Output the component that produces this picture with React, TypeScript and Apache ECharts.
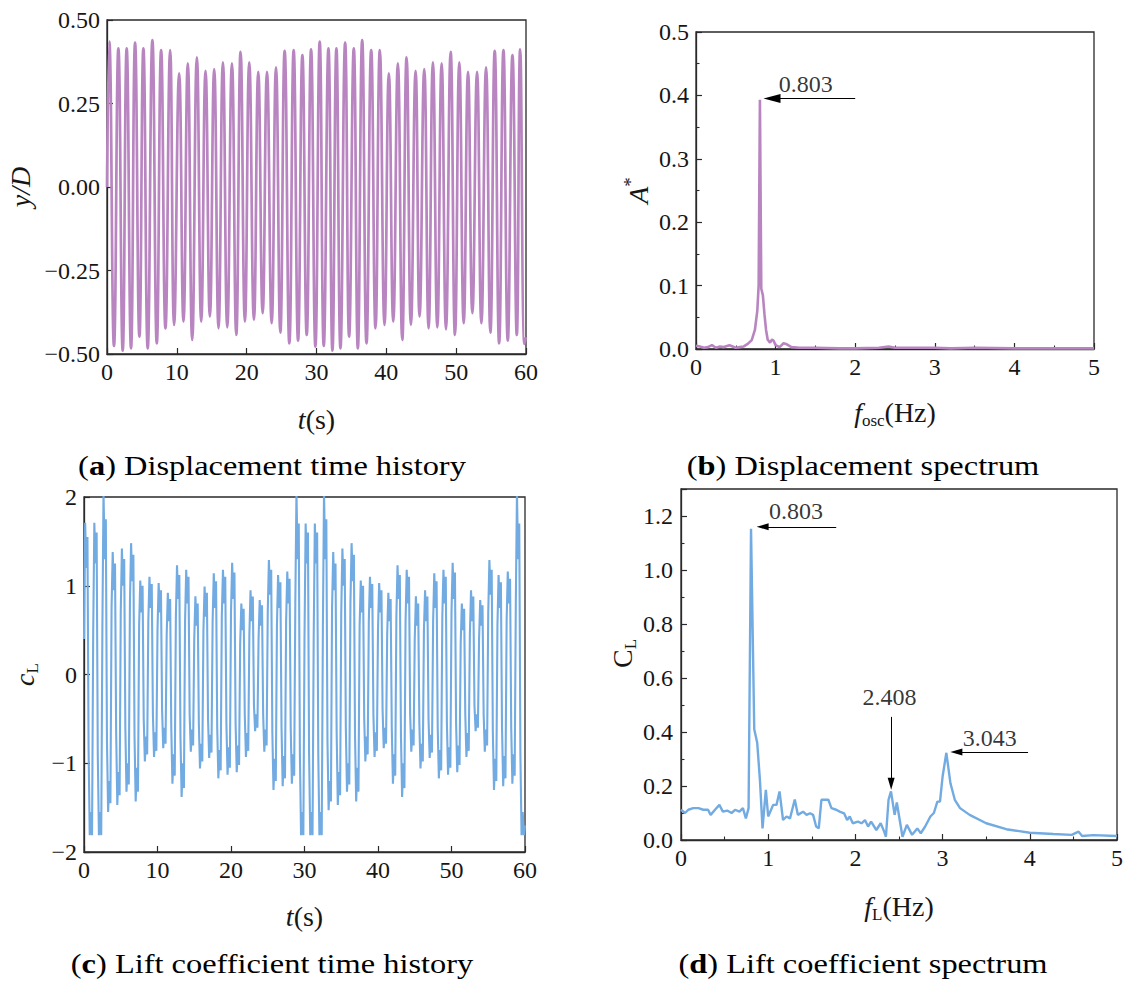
import React, { useEffect, useRef } from "react";
import * as echarts from "echarts";

const W = 1132;
const H = 986;
const SERIF = "Liberation Serif, Times New Roman, serif";
const INK = "#161616";
const AXIS = "#2a2a2a";
const PURPLE = "#b985c1";
const BLUE = "#72abe2";

// ---------- (a) displacement time history: read peaks / troughs ----------
const dispTime = [
  0,
  0.33, 1.0, 1.63, 2.25, 2.82, 3.44, 4.02, 4.64, 5.21, 5.83,
  6.5, 7.13, 7.75, 8.37, 9.04, 9.61, 10.33, 10.95, 11.57, 12.2,
  12.87, 13.49, 14.11, 14.73, 15.35, 15.97, 16.6, 17.22, 17.89, 18.51,
  19.13, 19.75, 20.37, 21.04, 21.66, 22.29, 22.91, 23.58, 24.2, 24.82,
  25.44, 26.11, 26.73, 27.36, 27.98, 28.6, 29.22, 29.84, 30.46, 31.04,
  31.71, 32.28, 32.85, 33.43, 34.1, 34.67, 35.34, 35.92, 36.54, 37.16,
  37.83, 38.45, 39.07, 39.74, 40.36, 40.99, 41.65, 42.28, 42.9, 43.52,
  44.19, 44.76, 45.43, 46.05, 46.67, 47.3, 47.92, 48.54, 49.21, 49.83,
  50.45, 51.08, 51.7, 52.32, 52.99, 53.61, 54.28, 54.9, 55.52, 56.15,
  56.77, 57.39, 58.06, 58.68, 59.16, 59.78,
  60,
];
const dispValue = [
  0.0,
  0.435, -0.476, 0.415, -0.49, 0.415, -0.483, 0.432, -0.448, 0.415, -0.483,
  0.44, -0.468, 0.41, -0.423, 0.41, -0.413, 0.34, -0.403, 0.37, -0.458,
  0.388, -0.403, 0.348, -0.388, 0.353, -0.423, 0.373, -0.42, 0.37, -0.443,
  0.405, -0.403, 0.373, -0.398, 0.345, -0.378, 0.345, -0.408, 0.358, -0.436,
  0.408, -0.468, 0.41, -0.46, 0.395, -0.443, 0.412, -0.478, 0.435, -0.476,
  0.415, -0.49, 0.415, -0.483, 0.432, -0.448, 0.415, -0.483, 0.44, -0.468,
  0.41, -0.423, 0.41, -0.413, 0.34, -0.403, 0.37, -0.458, 0.388, -0.413,
  0.348, -0.388, 0.353, -0.423, 0.373, -0.42, 0.37, -0.426, 0.405, -0.443,
  0.373, -0.408, 0.345, -0.378, 0.345, -0.408, 0.358, -0.436, 0.408, -0.468,
  0.41, -0.46, 0.395, -0.443, 0.412, -0.47,
  -0.45,
];

// ---------- (b) displacement spectrum ----------
const dispSpectrum = [
  [0, 0.005], [0.05, 0.004], [0.1, 0.002], [0.15, 0.003], [0.2, 0.006], [0.25, 0.002],
  [0.3, 0.004], [0.35, 0.003], [0.42, 0.006], [0.5, 0.002], [0.55, 0.003], [0.6, 0.004],
  [0.65, 0.008], [0.7, 0.014], [0.74, 0.03], [0.77, 0.06], [0.787, 0.1], [0.803, 0.393],
  [0.82, 0.095], [0.84, 0.085], [0.86, 0.055], [0.88, 0.03], [0.9, 0.015], [0.93, 0.01],
  [0.955, 0.015], [0.975, 0.013], [1.0, 0.006], [1.05, 0.003], [1.1, 0.009], [1.13, 0.008],
  [1.2, 0.003], [1.3, 0.002], [1.5, 0.002], [1.8, 0.001], [2.0, 0.001], [2.3, 0.002],
  [2.42, 0.004], [2.5, 0.002], [2.8, 0.002], [3.0, 0.002], [3.2, 0.001], [3.5, 0.002],
  [4.0, 0.001], [4.5, 0.001], [5.0, 0.001],
];

// ---------- (c) lift coefficient time history ----------
// eight samples per cycle, one sample every LIFT_STEP s:
// rise knee, first crest, crest dip, second crest, fall knee, first trough, trough bump, second trough
const LIFT_STEP = 0.15625;
const liftRise = [
  0.4, 0.45, 0.5, 0.75, 0.7, 0.8, 0.55, 0.6, 0.5, 0.45,
  0.65, 0.6, 0.4, 0.5, 0.6, 0.65, 0.7, 0.35, 0.45, 0.4,
  0.7, 0.55, 0.6, 0.8, 0.4, 0.4, 0.5, 0.75, 0.7, 0.8,
  0.55, 0.6, 0.5, 0.45, 0.65, 0.6, 0.4, 0.5, 0.6, 0.65,
  0.7, 0.35, 0.45, 0.4, 0.7, 0.55, 0.6, 0.8,
];
const liftPeakA = [
  1.71, 1.71, 2.05, 1.38, 1.42, 1.48, 1.06, 1.1, 1.03, 0.92,
  1.23, 1.18, 0.88, 0.99, 1.14, 1.18, 1.26, 0.8, 0.95, 0.84,
  1.29, 1.12, 1.16, 2.05, 1.7, 1.7, 2.05, 1.38, 1.42, 1.48,
  1.06, 1.1, 1.03, 0.92, 1.23, 1.18, 0.88, 0.95, 1.14, 1.18,
  1.26, 0.8, 0.95, 0.84, 1.29, 1.12, 1.16, 2.05,
];
const liftPeakDip = [
  1.2, 1.25, 1.3, 0.95, 1.0, 1.05, 0.7, 0.75, 0.7, 0.6,
  0.85, 0.8, 0.55, 0.65, 0.75, 0.8, 0.85, 0.5, 0.6, 0.55,
  0.9, 0.75, 0.8, 1.3, 1.25, 1.25, 1.3, 0.95, 1.0, 1.05,
  0.7, 0.75, 0.7, 0.6, 0.85, 0.8, 0.55, 0.6, 0.75, 0.8,
  0.85, 0.5, 0.6, 0.55, 0.9, 0.75, 0.8, 1.3,
];
const liftPeakB = [
  1.55, 1.6, 1.75, 1.25, 1.3, 1.35, 1.0, 1.02, 0.95, 0.85,
  1.12, 1.1, 0.8, 0.92, 1.05, 1.1, 1.15, 0.74, 0.88, 0.78,
  1.18, 1.04, 1.08, 1.7, 1.6, 1.6, 1.75, 1.25, 1.3, 1.35,
  1.0, 1.02, 0.95, 0.85, 1.12, 1.1, 0.8, 0.88, 1.05, 1.1,
  1.15, 0.74, 0.88, 0.78, 1.18, 1.04, 1.08, 1.7,
];
const liftFall = [
  -0.85, -0.9, -0.75, -0.65, -0.6, -0.7, -0.5, -0.45, -0.4, -0.6,
  -0.7, -0.45, -0.55, -0.5, -0.6, -0.55, -0.55, -0.45, -0.35, -0.45,
  -0.65, -0.6, -0.6, -0.9, -0.9, -0.9, -0.75, -0.65, -0.6, -0.7,
  -0.5, -0.45, -0.4, -0.6, -0.7, -0.45, -0.55, -0.5, -0.6, -0.55,
  -0.55, -0.45, -0.35, -0.45, -0.65, -0.6, -0.6, -0.9,
];
const liftTroughA = [
  -1.81, -1.81, -1.55, -1.47, -1.32, -1.43, -0.98, -0.93, -0.83, -1.23,
  -1.38, -0.87, -1.06, -0.94, -1.17, -1.13, -1.1, -0.93, -0.64, -0.87,
  -1.3, -1.26, -1.23, -1.81, -1.81, -1.81, -1.53, -1.47, -1.32, -1.43,
  -0.98, -0.93, -0.83, -1.23, -1.38, -0.87, -1.06, -0.94, -1.17, -1.13,
  -1.1, -0.93, -0.64, -0.87, -1.3, -1.26, -1.23, -1.81,
];
const liftTroughBump = [
  -1.55, -1.55, -1.2, -1.1, -1.0, -1.05, -0.7, -0.65, -0.6, -0.9,
  -1.0, -0.62, -0.78, -0.68, -0.85, -0.82, -0.8, -0.66, -0.45, -0.62,
  -0.95, -0.92, -0.9, -1.55, -1.55, -1.55, -1.2, -1.1, -1.0, -1.05,
  -0.7, -0.65, -0.6, -0.9, -1.0, -0.62, -0.78, -0.68, -0.85, -0.82,
  -0.8, -0.66, -0.45, -0.62, -0.95, -0.92, -0.9, -1.55,
];
const liftTroughB = [
  -1.81, -1.81, -1.45, -1.36, -1.24, -1.32, -0.9, -0.86, -0.78, -1.14,
  -1.28, -0.8, -0.98, -0.88, -1.08, -1.05, -1.02, -0.86, -0.6, -0.8,
  -1.2, -1.17, -1.14, -1.81, -1.81, -1.81, -1.43, -1.36, -1.24, -1.32,
  -0.9, -0.86, -0.78, -1.14, -1.28, -0.8, -0.98, -0.88, -1.08, -1.05,
  -1.02, -0.86, -0.6, -0.8, -1.2, -1.17, -1.14, -1.81,
];
const liftEnd = -1.7;

// ---------- (d) lift spectrum ----------
const liftSpectrum = [
  [0, 0.112], [0.046, 0.1], [0.084, 0.112], [0.14, 0.118], [0.2, 0.118], [0.256, 0.112],
  [0.31, 0.112], [0.34, 0.093], [0.39, 0.112], [0.44, 0.13], [0.48, 0.105], [0.53, 0.109],
  [0.58, 0.1], [0.62, 0.112], [0.67, 0.105], [0.71, 0.118], [0.744, 0.08], [0.775, 0.118],
  [0.803, 1.153], [0.84, 0.41], [0.874, 0.36], [0.905, 0.223], [0.935, 0.043], [0.973, 0.186],
  [1.0, 0.087], [1.057, 0.13], [1.095, 0.13], [1.13, 0.18], [1.17, 0.074], [1.21, 0.087],
  [1.25, 0.08], [1.305, 0.15], [1.34, 0.093], [1.4, 0.105], [1.44, 0.093], [1.48, 0.099],
  [1.515, 0.093], [1.55, 0.05], [1.58, 0.043], [1.61, 0.149], [1.69, 0.149], [1.725, 0.118],
  [1.78, 0.112], [1.82, 0.105], [1.87, 0.099], [1.905, 0.074], [1.935, 0.087], [1.97, 0.062],
  [2.03, 0.068], [2.07, 0.062], [2.11, 0.074], [2.145, 0.05], [2.18, 0.068], [2.24, 0.037],
  [2.29, 0.062], [2.33, 0.031], [2.35, 0.012], [2.38, 0.149], [2.408, 0.18], [2.45, 0.093],
  [2.475, 0.139], [2.54, 0.012], [2.59, 0.056], [2.65, 0.019], [2.71, 0.043], [2.75, 0.025],
  [2.8, 0.05], [2.86, 0.087], [2.9, 0.1], [2.94, 0.142], [2.97, 0.142], [3.0, 0.235],
  [3.043, 0.323], [3.09, 0.21], [3.14, 0.149], [3.2, 0.118], [3.31, 0.093], [3.5, 0.062],
  [3.73, 0.04], [4.0, 0.027], [4.27, 0.022], [4.48, 0.019], [4.56, 0.031], [4.6, 0.015],
  [4.73, 0.018], [5.0, 0.015],
];

// ---------- texts ----------
const peakLabels = ["0.803", "0.803", "2.408", "3.043"];
const captionTags = ["a", "b", "c", "d"];
const captionTexts = [
  "Displacement time history",
  "Displacement spectrum",
  "Lift coefficient time history",
  "Lift coefficient spectrum",
];

const minus = (s: string) => s.replace("-", "\u2212");

function buildOption() {
  const rich = {
    i: { fontFamily: SERIF, fontSize: 28, fontStyle: "italic", color: INK, lineHeight: 34 },
    sub: { fontFamily: SERIF, fontSize: 17, color: INK, lineHeight: 15, verticalAlign: "bottom" },
    sup: { fontFamily: SERIF, fontSize: 19, color: INK, lineHeight: 19, verticalAlign: "top" },
  };

  const axis = (o: any) => ({
    type: "value",
    gridIndex: o.grid,
    min: o.min,
    max: o.max,
    interval: o.interval,
    name: o.name,
    nameLocation: "middle",
    nameGap: o.nameGap,
    nameTextStyle: {
      fontFamily: SERIF,
      fontSize: 28,
      color: INK,
      lineHeight: 34,
      rich,
      padding: o.namePad || 0,
    },
    axisLine: { show: true, onZero: false, lineStyle: { color: AXIS, width: 1.3 } },
    axisTick: { show: true, inside: true, length: 6, lineStyle: { color: AXIS, width: 1.2 } },
    minorTick: { show: !!o.minor, splitNumber: 2, length: 3.5, lineStyle: { color: AXIS, width: 1.1 } },
    splitLine: { show: false },
    minorSplitLine: { show: false },
    axisLabel: {
      fontFamily: SERIF,
      fontSize: 24,
      color: INK,
      margin: o.margin,
      formatter: o.fmt,
    },
  });

  const grids = [
    { left: 107, top: 20, width: 419, height: 334 },
    { left: 696, top: 32, width: 398, height: 317 },
    { left: 84, top: 497, width: 441, height: 355 },
    { left: 681, top: 489, width: 436, height: 351 },
  ].map((g) => ({ ...g, show: true, borderColor: AXIS, borderWidth: 1.3, containLabel: false }));

  const xAxis = [
    axis({ grid: 0, min: 0, max: 60, interval: 10, name: "{i|t}(s)", nameGap: 48, margin: 6 }),
    axis({ grid: 1, min: 0, max: 5, interval: 1, name: "{i|f}{sub|osc}(Hz)", nameGap: 46, margin: 6, minor: true }),
    axis({ grid: 2, min: 0, max: 60, interval: 10, name: "{i|t}(s)", nameGap: 47, margin: 6 }),
    axis({ grid: 3, min: 0, max: 5, interval: 1, name: "{i|f}{sub|L}(Hz)", nameGap: 49, margin: 6, minor: true }),
  ];
  const yAxis = [
    axis({
      grid: 0, min: -0.5, max: 0.5, interval: 0.25, name: "{i|y/D}", nameGap: 70, margin: 7,
      fmt: (v: number) => minus(v.toFixed(2)),
    }),
    axis({
      grid: 1, min: 0, max: 0.5, interval: 0.1, name: "{i|A}{sup|*}", nameGap: 32, margin: 7, minor: true,
      fmt: (v: number) => v.toFixed(1),
    }),
    axis({
      grid: 2, min: -2, max: 2, interval: 1, name: "{i|c}{sub|L}", nameGap: 43, margin: 7,
      fmt: (v: number) => minus(String(v)),
    }),
    axis({
      grid: 3, min: 0, max: 1.3, interval: 0.2, name: "C{sub|L}", nameGap: 20, margin: 8, minor: true,
      namePad: [0, 0, 0, 22],
      fmt: (v: number) => (Math.abs(v - 1.3) < 1e-6 ? "" : v.toFixed(1)),
    }),
  ];

  const liftData: number[][] = [];
  const liftParts = [
    liftRise, liftPeakA, liftPeakDip, liftPeakB,
    liftFall, liftTroughA, liftTroughBump, liftTroughB,
  ];
  let n = 0;
  for (let k = 0; k < liftPeakA.length; k++) {
    for (const part of liftParts) {
      liftData.push([n * LIFT_STEP, part[k]]);
      n++;
    }
  }
  liftData.push([n * LIFT_STEP, liftEnd]);

  const arrowStyle = {
    silent: true,
    symbol: ["none", "triangle"],
    symbolSize: 10,
    label: { show: false },
    lineStyle: { color: "#000", width: 1, type: "solid", opacity: 1 },
    itemStyle: { color: "#000" },
    emphasis: { disabled: true },
  };

  const textSeries = (xi: number, pts: number[][], labels: string[]) => ({
    type: "scatter",
    xAxisIndex: xi,
    yAxisIndex: xi,
    silent: true,
    symbolSize: 1,
    itemStyle: { color: "rgba(0,0,0,0)" },
    data: pts.map((p, i) => ({
      value: p,
      label: {
        show: true,
        position: "inside",
        formatter: labels[i],
        fontFamily: SERIF,
        fontSize: 24,
        color: "#000",
      },
    })),
  });

  const series: any[] = [
    {
      type: "line",
      xAxisIndex: 0,
      yAxisIndex: 0,
      data: dispTime.map((t, i) => [t, dispValue[i]]),
      showSymbol: false,
      symbol: "none",
      smooth: 0.5,
      silent: true,
      lineStyle: { color: PURPLE, width: 2.7 },
    },
    {
      type: "line",
      xAxisIndex: 1,
      yAxisIndex: 1,
      data: dispSpectrum,
      showSymbol: false,
      symbol: "none",
      silent: true,
      lineStyle: { color: PURPLE, width: 2.6 },
      markLine: {
        ...arrowStyle,
        data: [[{ coord: [2.0, 0.395] }, { coord: [0.955, 0.395], symbolSize: [9, 17] }]],
      },
    },
    textSeries(1, [[1.38, 0.418]], [peakLabels[0]]),
    {
      type: "line",
      xAxisIndex: 2,
      yAxisIndex: 2,
      data: liftData,
      showSymbol: false,
      symbol: "none",
      silent: true,
      lineStyle: { color: BLUE, width: 2.1 },
    },
    {
      type: "line",
      xAxisIndex: 3,
      yAxisIndex: 3,
      data: liftSpectrum,
      showSymbol: false,
      symbol: "none",
      silent: true,
      lineStyle: { color: BLUE, width: 2.4 },
      markLine: {
        ...arrowStyle,
        data: [
          [{ coord: [1.78, 1.16] }, { coord: [0.936, 1.16], symbolSize: [7, 12] }],
          [{ coord: [2.41, 0.456] }, { coord: [2.41, 0.208], symbolSize: [7, 12] }],
          [{ coord: [3.98, 0.326] }, { coord: [3.158, 0.326], symbolSize: [7, 12] }],
        ],
      },
    },
    textSeries(3, [[1.32, 1.22], [2.39, 0.53], [3.54, 0.378]], peakLabels.slice(1)),
  ];

  const capPos = [
    [272, 465],
    [863, 465],
    [272, 963],
    [863, 963],
  ];
  const graphic = captionTags.map((tag, i) => ({
    type: "text",
    x: capPos[i][0],
    y: capPos[i][1],
    scaleX: 1.2,
    silent: true,
    style: {
      text: `({b|${tag}}) ${captionTexts[i]}`,
      fontFamily: SERIF,
      fontSize: 27,
      fill: "#000",
      align: "center",
      verticalAlign: "middle",
      rich: {
        b: { fontFamily: SERIF, fontSize: 27, fontWeight: "bold", fill: "#000", color: "#000" },
      },
    },
  }));

  return {
    animation: false,
    backgroundColor: "#ffffff",
    textStyle: { fontFamily: SERIF },
    grid: grids,
    xAxis,
    yAxis,
    series,
    graphic,
  };
}

export default function App() {
  const ref = useRef<HTMLDivElement>(null);
  useEffect(() => {
    document.body.style.margin = "0";
    const chart = echarts.init(ref.current as HTMLDivElement, null, {
      renderer: "svg",
      width: W,
      height: H,
    });
    chart.setOption(buildOption() as any);
    return () => chart.dispose();
  }, []);
  return <div ref={ref} style={{ width: W, height: H, background: "#fff" }} />;
}
